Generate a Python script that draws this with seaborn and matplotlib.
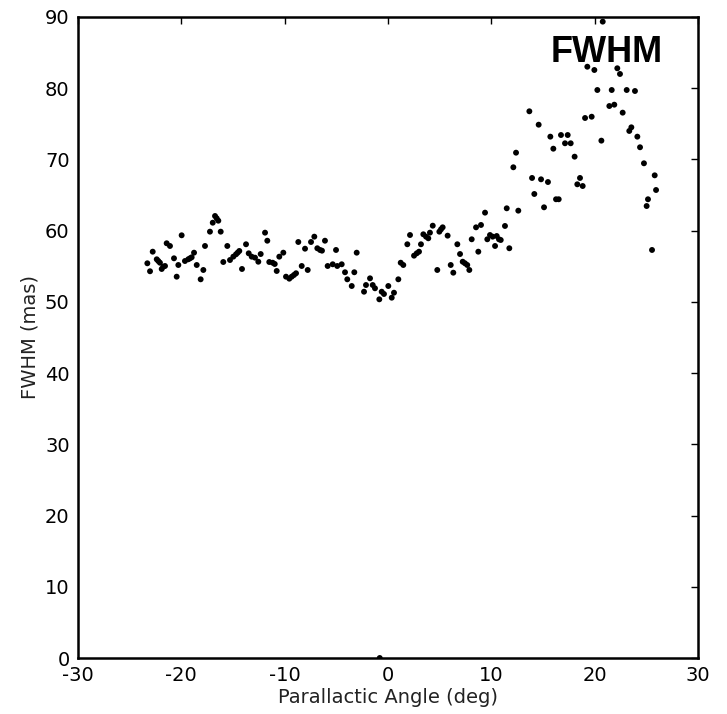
import matplotlib
matplotlib.use("Agg")
import matplotlib.pyplot as plt
import seaborn as sns
import pandas as pd

angle = [
    -23.29, -23.03, -22.77, -22.38, -22.23, -22.07, -21.90, -21.75, -21.58, -21.42,
    -21.10, -20.71, -20.45, -20.29, -19.97, -19.65, -19.33, -19.16, -19.00, -18.77,
    -18.51, -18.13, -17.87, -17.71, -17.23, -16.96, -16.74, -16.58, -16.42, -16.19,
    -15.94, -15.55, -15.29, -14.97, -14.71, -14.55, -14.39, -14.13, -13.74, -13.48,
    -13.19, -12.87, -12.55, -12.32, -11.90, -11.68, -11.49, -11.16, -10.96, -10.77,
    -10.52, -10.13, -9.87, -9.55, -9.32, -9.10, -8.90, -8.68, -8.35, -8.03,
    -7.77, -7.45, -7.13, -6.84, -6.58, -6.39, -6.10, -5.84, -5.35, -5.03,
    -4.91, -4.48, -4.16, -3.94, -3.51, -3.26, -3.03, -2.32, -2.13, -1.74,
    -1.48, -1.26, -0.84, -0.80, -0.61, -0.39, 0.03, 0.36, 0.58, 1.00,
    1.23, 1.48, 1.87, 2.13, 2.52, 2.78, 3.00, 3.19, 3.42, 3.68,
    3.90, 4.06, 4.33, 4.77, 4.97, 5.13, 5.29, 5.77, 6.07, 6.32,
    6.71, 6.97, 7.23, 7.45, 7.67, 7.87, 8.10, 8.52, 8.74, 9.00,
    9.39, 9.61, 9.87, 10.13, 10.36, 10.52, 10.74, 10.91, 11.32, 11.49,
    11.74, 12.13, 12.39, 12.61, 13.68, 13.94, 14.16, 14.58, 14.81, 15.10,
    15.48, 15.71, 16.00, 16.26, 16.52, 16.74, 17.13, 17.39, 17.68, 18.06,
    18.32, 18.58, 18.84, 19.07, 19.29, 19.71, 19.97, 20.26, 20.65, 20.78,
    21.42, 21.65, 21.90, 22.19, 22.45, 22.71, 23.10, 23.35, 23.55, 23.90,
    24.13, 24.39, 24.77, 25.03, 25.16, 25.55, 25.81, 25.94,
]
fwhm = [
    55.42, 54.30, 57.05, 55.98, 55.74, 55.50, 54.62, 54.94, 55.04, 58.23,
    57.85, 56.12, 53.54, 55.18, 59.35, 55.74, 55.98, 56.12, 56.26, 56.91,
    55.18, 53.17, 54.48, 57.85, 59.86, 61.12, 62.06, 61.74, 61.40, 59.86,
    55.60, 57.85, 55.88, 56.35, 56.68, 56.91, 57.15, 54.62, 58.09, 56.82,
    56.35, 56.21, 55.64, 56.72, 59.72, 58.59, 55.60, 55.50, 55.32, 54.34,
    56.35, 56.91, 53.54, 53.26, 53.54, 53.78, 54.02, 58.41, 55.04, 57.47,
    54.48, 58.41, 59.16, 57.53, 57.29, 57.19, 58.59, 55.04, 55.28, 57.29,
    55.04, 55.28, 54.16, 53.17, 52.23, 54.16, 56.91, 51.43, 52.37, 53.31,
    52.37, 51.91, 50.36, 0.0, 51.43, 51.11, 52.23, 50.59, 51.29, 53.17,
    55.50, 55.18, 58.09, 59.39, 56.49, 56.82, 57.05, 58.09, 59.49, 59.16,
    58.93, 59.72, 60.70, 54.48, 59.86, 60.19, 60.47, 59.30, 55.18, 54.10,
    58.09, 56.72, 55.64, 55.42, 55.18, 54.48, 58.79, 60.47, 57.05, 60.80,
    62.53, 58.79, 59.39, 59.16, 57.85, 59.25, 58.79, 58.69, 60.66, 63.14,
    57.53, 68.90, 70.95, 62.81, 76.76, 67.40, 65.15, 74.88, 67.21, 63.28,
    66.83, 73.20, 71.51, 64.41, 64.41, 73.43, 72.27, 73.43, 72.27, 70.39,
    66.51, 67.40, 66.27, 75.82, 83.02, 76.00, 82.56, 79.75, 72.64, 89.35,
    77.50, 79.75, 77.69, 82.80, 82.00, 76.57, 79.75, 74.00, 74.51, 79.61,
    73.20, 71.71, 69.46, 63.46, 64.41, 57.29, 67.77, 65.71,
]
xticks = [-30, -20, -10, 0, 10, 20, 30]
yticks = [0, 10, 20, 30, 40, 50, 60, 70, 80, 90]

df = pd.DataFrame({"angle": angle, "fwhm": fwhm})

sns.set_style("white")
plt.rcParams["font.family"] = ["DejaVu Sans"]
plt.rcParams["axes.unicode_minus"] = False

fig = plt.figure(figsize=(7.27, 7.14), dpi=100)
ax = fig.add_axes([78 / 727, 56 / 714, 620 / 727, 641 / 714])

sns.scatterplot(data=df, x="angle", y="fwhm", ax=ax, color="black",
                s=18, edgecolor="none", linewidth=0)

ax.set_xlim(-30, 30)
ax.set_ylim(0, 90)
ax.set_xticks(xticks)
ax.set_yticks(yticks)
ax.set_xticklabels([str(t) for t in xticks])
ax.set_yticklabels([str(t) for t in yticks])
ax.tick_params(direction="in", length=5, width=1, top=True, right=True,
               labelsize=14, pad=6, colors="black")
for sp in ax.spines.values():
    sp.set_visible(True)
    sp.set_color("black")
    sp.set_linewidth(1.8)

ax.set_xlabel("Parallactic Angle (deg)", fontsize=14, color="#222222", labelpad=2)
ax.set_ylabel("FWHM (mas)", fontsize=14, color="#222222", labelpad=4)

ax.text(0.853, 0.944, "FWHM", transform=ax.transAxes, ha="center", va="center",
        fontsize=26, fontweight="bold", family=["Liberation Sans", "DejaVu Sans"],
        color="black")

fig.savefig("out.png", dpi=100)
